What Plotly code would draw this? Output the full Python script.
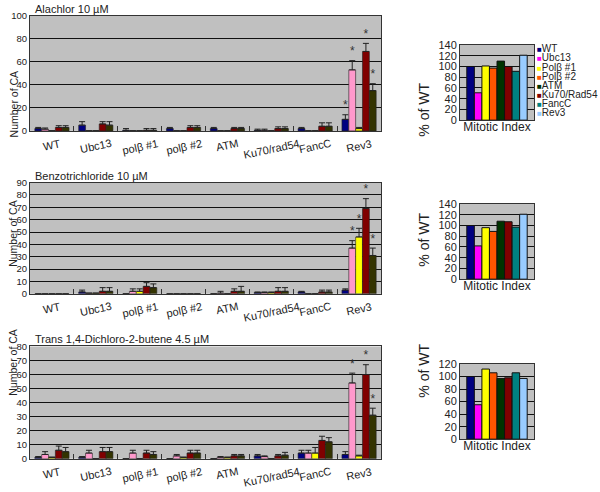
import plotly.graph_objects as go

strains = ["WT", "Ubc13", "polβ #1", "polβ #2", "ATM", "Ku70/rad54", "FancC", "Rev3"]
mi_strains = ["WT", "Ubc13", "Polβ #1", "Polβ #2", "ATM", "Ku70/Rad54", "FancC", "Rev3"]
series_names = ["series 1", "series 2", "series 3", "series 4", "series 5"]
series_colors = ["#000080", "#FF99CC", "#FFFF00", "#800000", "#333300"]
mi_colors = ["#000080", "#FF00FF", "#FFFF00", "#FF5500", "#003300", "#800000", "#008080", "#99CCFF"]

############################# Alachlor ####################################
ala_s1 = [2, 5, 0.5, 2, 2, 0.5, 2, 10]
ala_s2 = [1.5, 0, 0, 0, 0, 0.5, 0, 53]
ala_s3 = [0, 0, 0, 0, 0, 0, 0, 2]
ala_s4 = [3, 6, 0.5, 3, 2, 2, 4, 69]
ala_s5 = [3, 5, 0.5, 3, 2, 2, 4, 35]
ala_e1 = [1, 3, 1.5, 1, 1, 1, 1, 4]
ala_e2 = [1, 0, 0, 0, 0, 1, 0, 8]
ala_e3 = [0, 0, 0, 0, 0, 0, 0, 1]
ala_e4 = [1.5, 2, 1.5, 1.5, 1, 1.5, 3, 7]
ala_e5 = [1.5, 3, 1.5, 1.5, 1, 1.5, 3, 6]
ala_star = [1, 1, 0, 1, 1]  # significance at Rev3

############################# Benzotrichloride ############################
ben_s1 = [0, 1.5, 0, 0, 0, 1, 1.5, 3]
ben_s2 = [0, 0.5, 2, 0, 0.5, 1, 0, 37]
ben_s3 = [0, 0.5, 2, 0, 0, 1, 0, 46]
ben_s4 = [0, 2, 6, 0, 2, 2, 1.5, 69]
ben_s5 = [0, 2, 5, 0, 2, 2, 1.5, 31]
ben_e1 = [0, 1.5, 0, 0, 0, 0.5, 0.5, 1]
ben_e2 = [0, 0, 2, 0, 1.5, 0.5, 0, 6]
ben_e3 = [0, 0, 2, 0, 0, 0.5, 0, 7]
ben_e4 = [0, 3, 3, 0, 2, 3, 1.5, 8]
ben_e5 = [0, 3, 3, 0, 4, 3, 1.5, 6]
ben_star = [0, 1, 1, 1, 1]

############################# Trans 1,4-Dichloro-2-butene #################
tdb_s1 = [1, 1, 0, 0, 0, 2, 4, 3]
tdb_s2 = [3, 4, 4, 2, 1, 1.5, 4, 54]
tdb_s3 = [1, 0, 0, 1, 1, 0, 4, 2]
tdb_s4 = [6, 5, 4, 4, 2, 2, 13, 60]
tdb_s5 = [5, 5, 3, 4, 2, 2.5, 12, 31]
tdb_e1 = [0.5, 0.5, 0, 0, 0, 1, 2, 2]
tdb_e2 = [2, 2, 2, 1, 0.5, 0.5, 2, 7]
tdb_e3 = [0, 0, 0, 0, 0, 0, 4, 0.5]
tdb_e4 = [3, 3, 2, 2, 1, 1, 3, 7]
tdb_e5 = [3, 3, 2, 2, 1, 2, 3, 5]
tdb_star = [0, 1, 0, 1, 1]

############################# mitotic index (% of WT) #####################
mi_ala = [100, 51, 101, 97, 110, 100, 91, 121]
mi_ben = [100, 62, 96, 89, 108, 107, 97, 121]
mi_tdb = [100, 55, 112, 106, 97, 98, 106, 97]

W, H = 600, 492


def px_x(v):
    return v / W


def px_y(v):
    return 1 - v / H


panels = [
    dict(title="Alachlor 10 µM", vals=[ala_s1, ala_s2, ala_s3, ala_s4, ala_s5],
         errs=[ala_e1, ala_e2, ala_e3, ala_e4, ala_e5], star=ala_star,
         rng=100, dtick=20, dom=[px_y(128), px_y(10)],
         mi=mi_ala, mirng=140, midom=[px_y(117), px_y(40)]),
    dict(title="Benzotrichloride 10 µM", vals=[ben_s1, ben_s2, ben_s3, ben_s4, ben_s5],
         errs=[ben_e1, ben_e2, ben_e3, ben_e4, ben_e5], star=ben_star,
         rng=90, dtick=10, dom=[px_y(295), px_y(181)],
         mi=mi_ben, mirng=140, midom=[px_y(280), px_y(203)]),
    dict(title="Trans 1,4-Dichloro-2-butene 4.5 µM", vals=[tdb_s1, tdb_s2, tdb_s3, tdb_s4, tdb_s5],
         errs=[tdb_e1, tdb_e2, tdb_e3, tdb_e4, tdb_e5], star=tdb_star,
         rng=80, dtick=10, dom=[px_y(464), px_y(349)],
         mi=mi_tdb, mirng=120, midom=[px_y(444), px_y(367)]),
]

font = "Liberation Sans, Arial, sans-serif"
ink = "#222222"
fig = go.Figure()
layout = {}
annotations = []

for p_i, p in enumerate(panels):
    lx = 2 * p_i + 1
    rx = 2 * p_i + 2
    xa, ya = f"x{lx if lx > 1 else ''}", f"y{lx if lx > 1 else ''}"
    xb, yb = f"x{rx}", f"y{rx}"

    for s in range(5):
        fig.add_trace(go.Bar(
            x=strains, y=p["vals"][s], name=series_names[s], xaxis=xa, yaxis=ya,
            offsetgroup=str(s), showlegend=False,
            marker={"color": series_colors[s], "line": {"color": ink, "width": 0.6}},
            error_y={"type": "data", "symmetric": False, "array": p["errs"][s],
                     "arrayminus": [0] * 8, "color": ink, "thickness": 1, "width": 3},
        ))
    for s in range(5):
        star_y = [None] * 8
        if p["star"][s]:
            star_y[-1] = p["vals"][s][-1] + p["errs"][s][-1] + 0.075 * p["rng"]
        fig.add_trace(go.Scatter(
            x=strains, y=star_y, mode="text", text=["*"] * 8, xaxis=xa, yaxis=ya,
            offsetgroup=str(s), showlegend=False, hoverinfo="skip",
            textfont={"size": 12, "color": "#333333", "family": font},
        ))

    fig.add_trace(go.Bar(
        x=mi_strains, y=p["mi"], xaxis=xb, yaxis=yb, width=1, showlegend=False,
        marker={"color": mi_colors, "line": {"color": "#111111", "width": 1}},
    ))

    key_xa = "xaxis" if lx == 1 else f"xaxis{lx}"
    key_ya = "yaxis" if lx == 1 else f"yaxis{lx}"
    layout[key_xa] = {"domain": [px_x(30), px_x(381)], "anchor": ya, "type": "category",
                      "showline": True, "linecolor": "#333333", "mirror": True,
                      "ticks": "inside", "tickson": "boundaries", "ticklen": 5,
                      "tickcolor": "#333333", "showticklabels": False}
    layout[key_ya] = {"domain": p["dom"], "anchor": xa, "range": [0, p["rng"]],
                      "dtick": p["dtick"], "showgrid": True, "gridcolor": "#111111",
                      "gridwidth": 1, "zeroline": False, "showline": True,
                      "linecolor": "#333333", "mirror": True, "ticks": "",
                      "tickfont": {"size": 9.5, "family": font, "color": ink}}
    layout[f"xaxis{rx}"] = {"domain": [px_x(460), px_x(534)], "anchor": yb, "type": "category",
                            "range": [-1.4, 8.4], "showticklabels": False,
                            "showline": True, "linecolor": "#333333", "mirror": True,
                            "title": {"text": "Mitotic Index", "standoff": 2,
                                      "font": {"size": 12, "family": font, "color": ink}}}
    layout[f"yaxis{rx}"] = {"domain": p["midom"], "anchor": xb, "range": [0, p["mirng"]],
                            "dtick": 20, "showgrid": True, "gridcolor": "#111111",
                            "zeroline": False, "showline": True, "linecolor": "#333333",
                            "mirror": True, "ticks": "",
                            "tickfont": {"size": 11, "family": font, "color": ink}}

    # slanted category labels, centred under each group
    for name in strains:
        annotations.append(dict(text=name, xref=xa, x=name, yref="paper",
                                y=p["dom"][0] - 4 / H, xanchor="center", yanchor="top",
                                textangle=-12, showarrow=False,
                                font={"size": 11, "family": font, "color": ink}))

    annotations.append(dict(text=p["title"], xref="paper", yref="paper", x=px_x(33),
                            y=p["dom"][1] - 1 / H, xanchor="left", yanchor="bottom", showarrow=False,
                            font={"size": 11, "family": font, "color": ink}))
    annotations.append(dict(text="Number of CA", xref="paper", yref="paper", x=px_x(5.5),
                            y=(p["dom"][0] + p["dom"][1]) / 2 + 5 / H, textangle=-90,
                            showarrow=False, font={"size": 10.5, "family": font, "color": ink}))
    annotations.append(dict(text="% of WT", xref="paper", yref="paper", x=px_x(434),
                            y=(p["midom"][0] + p["midom"][1]) / 2 + 2 / H, textangle=-90,
                            showarrow=False, font={"size": 14, "family": font, "color": ink}))

# legend for the mitotic index bars
for i, (name, col) in enumerate(zip(mi_strains, mi_colors)):
    annotations.append(dict(text=f"<span style='color:{col};font-size:8px'>■</span>{name}",
                            xref="paper", yref="paper", x=px_x(535), y=px_y(44 + 9.3 * i),
                            xanchor="left", yanchor="middle", showarrow=False,
                            font={"size": 10, "family": font, "color": ink}))

fig.update_layout(layout)
fig.update_layout(
    width=W, height=H, margin={"l": 0, "r": 0, "t": 0, "b": 0},
    paper_bgcolor="white", plot_bgcolor="#C0C0C0",
    barmode="group", bargap=0.22, scattermode="group", scattergap=0.22,
    annotations=annotations, showlegend=False,
    font={"family": font},
)

# the page body has a default 8px margin; drop it so the figure sits at the window origin
fig.write_html("out.html", config={"displayModeBar": False},
               post_script="document.body.style.margin = '0';")
